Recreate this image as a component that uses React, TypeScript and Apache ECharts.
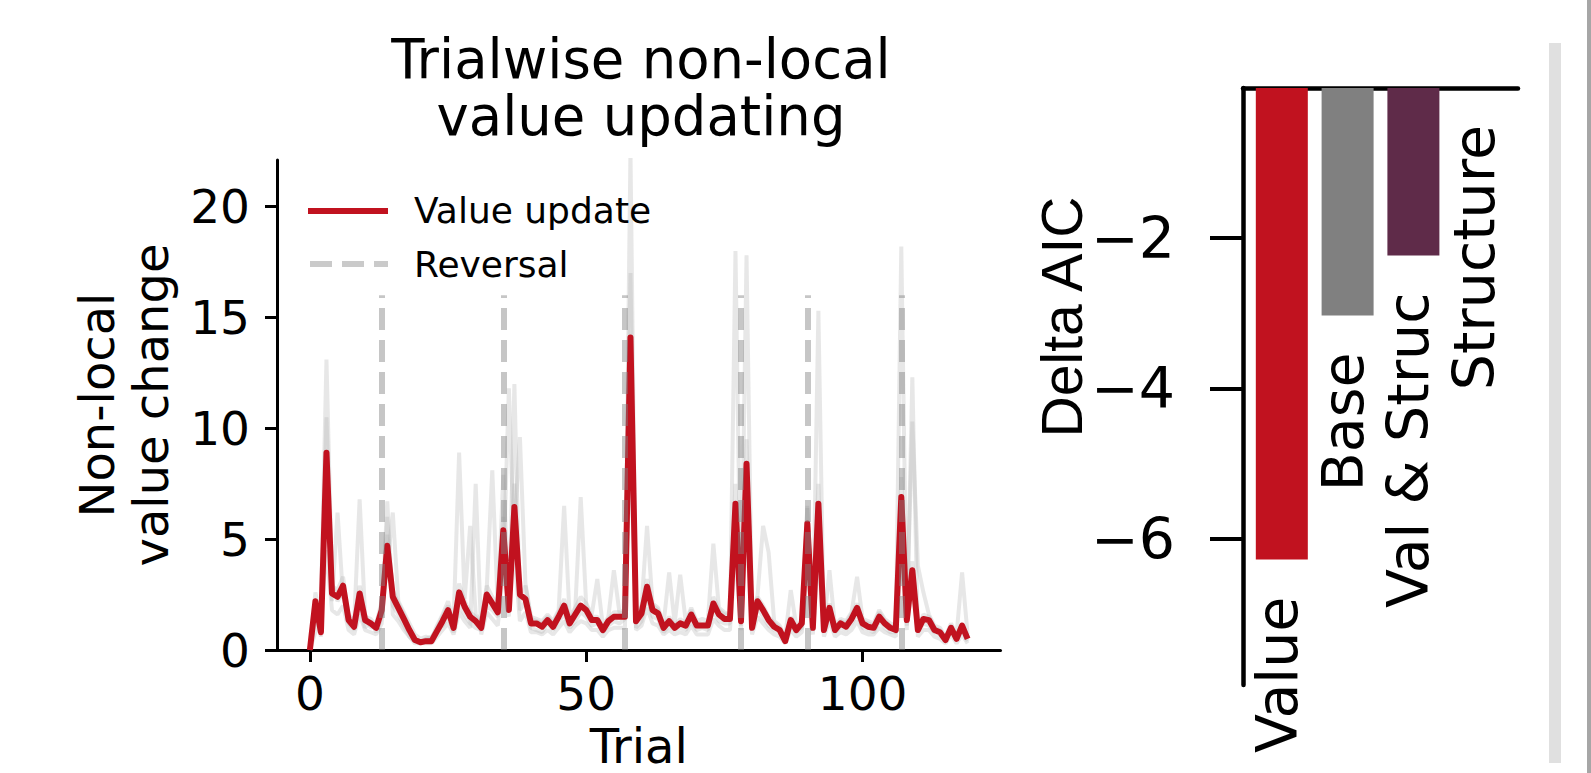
import React, { useEffect, useRef } from 'react';
import * as echarts from 'echarts';

// ---------- Left panel data ----------
const valueUpdate = [
  0, 2.2, 0.8, 8.9, 2.55, 2.4, 2.9, 1.35, 1.05, 2.55,
  1.35, 1.2, 1.0, 1.8, 4.7, 2.4, 1.9, 1.4, 0.9, 0.45,
  0.35, 0.4, 0.4, 0.85, 1.3, 1.8, 1.0, 2.6, 1.95, 1.5,
  1.3, 1.0, 2.5, 2.1, 1.7, 5.4, 1.8, 6.45, 2.5, 2.3,
  1.2, 1.2, 1.05, 1.35, 1.05, 1.5, 2.0, 1.2, 1.6, 2.0,
  1.8, 1.35, 1.35, 0.9, 1.3, 1.5, 1.5, 1.5, 14.1, 1.3,
  1.65, 2.85, 1.8, 1.65, 1.0, 1.3, 1.0, 1.2, 1.1, 1.6,
  1.1, 1.1, 1.1, 2.1, 1.6, 1.4, 1.4, 6.6, 1.3, 8.4,
  1.0, 2.2, 1.8, 1.35, 1.05, 0.9, 0.4, 1.35, 0.9, 1.2,
  5.7, 1.0, 6.6, 0.9, 1.9, 0.9, 1.2, 1.05, 1.4, 1.9,
  1.2, 1.05, 1.0, 1.5, 1.2, 1.0, 0.9, 6.9, 1.35, 3.6,
  0.9, 1.4, 1.35, 0.9, 0.8, 0.45, 1.0, 0.5, 1.1, 0.5,
];

const subjectA = [
  0, 1.5, 2.0, 13.1, 3.0, 2.2, 2.6, 1.2, 0.9, 2.0,
  1.0, 1.3, 0.8, 1.5, 6.7, 2.0, 1.6, 1.1, 0.6, 0.4,
  0.3, 0.5, 0.6, 0.9, 1.1, 1.5, 0.8, 2.0, 1.6, 1.2,
  1.0, 0.9, 2.0, 1.8, 1.5, 4.5, 1.5, 12.0, 1.8, 2.2,
  1.0, 0.9, 0.8, 1.2, 0.9, 1.3, 1.6, 1.0, 1.3, 1.7,
  1.5, 1.1, 1.2, 0.8, 1.1, 1.3, 1.2, 1.4, 22.5, 1.0,
  1.3, 2.4, 1.5, 1.4, 0.8, 1.1, 0.9, 1.0, 0.9, 1.3,
  0.9, 1.0, 0.9, 1.8, 1.3, 1.2, 1.2, 18.0, 1.1, 7.0,
  0.9, 1.9, 1.5, 1.1, 0.9, 0.8, 0.4, 1.1, 0.8, 1.0,
  4.8, 0.9, 15.3, 0.8, 1.6, 0.8, 1.0, 0.9, 1.2, 1.6,
  1.0, 0.9, 0.8, 1.3, 1.0, 0.8, 0.8, 18.2, 1.1, 3.0,
  0.8, 1.2, 1.1, 0.8, 0.7, 0.4, 0.9, 0.5, 1.0, 0.4,
];

const subjectB = [
  0, 2.6, 1.2, 7.5, 2.2, 6.2, 2.4, 1.6, 1.3, 2.9,
  1.6, 1.0, 1.2, 2.2, 3.8, 6.2, 2.2, 1.7, 1.2, 0.7,
  0.5, 0.6, 0.5, 1.1, 1.6, 2.2, 1.3, 8.9, 2.3, 5.6,
  1.6, 1.3, 2.9, 2.4, 2.0, 7.9, 2.2, 5.5, 9.6, 3.0,
  1.5, 1.4, 1.3, 1.6, 1.3, 1.8, 6.5, 1.5, 1.9, 2.4,
  2.1, 1.6, 3.2, 1.1, 1.5, 3.6, 1.7, 1.8, 9.0, 1.6,
  2.0, 5.6, 2.1, 1.9, 1.2, 3.5, 1.2, 3.4, 1.3, 1.9,
  1.3, 1.4, 1.3, 4.8, 1.9, 1.7, 1.6, 5.0, 1.5, 17.8,
  1.2, 2.5, 5.6, 4.4, 1.3, 1.1, 0.6, 2.7, 1.1, 1.3,
  6.5, 1.2, 5.0, 1.1, 3.6, 1.1, 1.4, 1.3, 1.7, 3.3,
  1.4, 1.3, 1.2, 1.8, 1.4, 1.2, 1.1, 6.0, 1.6, 10.3,
  3.8, 2.6, 1.6, 1.1, 1.0, 0.6, 1.2, 0.7, 3.5, 0.7,
];

const subjectC = [
  0, 1.8, 0.6, 10.5, 2.9, 2.7, 3.3, 1.5, 1.2, 6.8,
  1.5, 1.4, 1.1, 2.0, 5.2, 2.7, 2.1, 1.6, 1.0, 0.5,
  0.4, 0.4, 0.5, 1.0, 1.5, 2.0, 1.1, 3.0, 2.2, 1.7,
  1.5, 1.1, 2.8, 8.1, 1.9, 6.0, 2.0, 7.5, 2.3, 2.9,
  1.4, 1.3, 1.2, 1.5, 1.2, 1.7, 2.3, 1.4, 1.8, 6.9,
  2.0, 1.5, 1.5, 1.0, 1.4, 1.7, 1.7, 1.6, 17.0, 1.5,
  1.9, 3.2, 2.0, 1.8, 1.1, 1.5, 1.1, 1.4, 1.2, 1.8,
  1.2, 1.2, 1.2, 2.4, 1.8, 1.6, 1.6, 7.5, 1.4, 9.5,
  1.1, 2.4, 2.0, 1.5, 1.2, 1.0, 0.5, 1.5, 1.0, 1.1,
  6.4, 1.1, 7.5, 1.0, 2.1, 1.0, 1.3, 1.2, 1.6, 2.1,
  1.3, 1.2, 1.1, 1.7, 1.3, 1.1, 1.0, 7.8, 1.5, 4.0,
  1.0, 1.6, 1.5, 1.0, 0.9, 0.5, 1.1, 0.6, 1.2, 0.6,
];

const subjectD = [
  0, 0.8, 1.5, 4.5, 1.8, 1.6, 2.0, 0.9, 0.7, 1.6,
  0.9, 0.8, 0.7, 1.2, 6.0, 1.6, 1.3, 0.9, 0.6, 0.3,
  0.3, 0.3, 0.3, 0.6, 0.9, 1.2, 0.7, 1.7, 1.3, 1.0,
  7.5, 0.7, 1.7, 1.4, 1.1, 3.6, 11.8, 4.3, 1.3, 1.7,
  0.8, 0.8, 0.7, 0.9, 0.7, 1.0, 1.3, 0.8, 1.1, 1.3,
  1.2, 0.9, 0.9, 0.6, 0.9, 1.0, 1.0, 1.0, 12.0, 0.9,
  1.1, 1.9, 1.2, 1.1, 0.7, 0.9, 0.7, 0.8, 0.7, 1.1,
  0.7, 0.7, 0.7, 1.4, 1.1, 0.9, 0.9, 4.4, 0.9, 5.6,
  0.7, 1.5, 1.2, 0.9, 0.7, 0.6, 0.3, 0.9, 0.6, 0.8,
  3.8, 0.7, 4.4, 0.6, 1.3, 0.6, 0.8, 0.7, 0.9, 1.3,
  0.8, 0.7, 0.7, 1.0, 0.8, 0.7, 0.6, 4.6, 0.9, 12.3,
  0.6, 0.9, 0.9, 0.6, 0.5, 0.3, 0.7, 0.3, 0.7, 0.3,
];

const subjects = [subjectA, subjectB, subjectC, subjectD];
const reversalTrials = [13, 35, 57, 78, 90, 107];
const reversalTop = 16;
const trialTicks = [0, 50, 100];
const changeTicks = [0, 5, 10, 15, 20];

// ---------- Right panel data ----------
const models = ['Value', 'Base', 'Val & Struc', 'Structure'];
const deltaAIC = [-6.28, -3.03, -2.23, 0];
const modelColors = ['#c1121f', '#808080', '#5f2b49', '#3b6a8c'];
const aicTicks = [-6, -4, -2];

const RED = '#c1121f';
const FONT = 'DejaVu Sans';

const toPairs = (arr: number[]) => arr.map((v, i) => [i, v]);

export default function App() {
  const ref = useRef<HTMLDivElement>(null);

  useEffect(() => {
    if (!ref.current) return;
    const chart = echarts.init(ref.current, undefined, { renderer: 'svg' });

    const greySeries = subjects.map((s, k) => ({
      name: 'Subject ' + (k + 1),
      type: 'line',
      xAxisIndex: 0,
      yAxisIndex: 0,
      data: toPairs(s),
      showSymbol: false,
      symbol: 'none',
      clip: true,
      z: 1,
      lineStyle: { color: 'rgba(175,175,175,0.3)', width: 4 },
      silent: true,
    }));

    const option: any = {
      animation: false,
      backgroundColor: '#ffffff',
      textStyle: { fontFamily: FONT },
      title: {
        text: 'Trialwise non-local\nvalue updating',
        left: 641,
        top: 30,
        textAlign: 'center',
        padding: 0,
        textStyle: {
          fontFamily: FONT,
          fontSize: 54.5,
          fontWeight: 'normal',
          color: '#000',
          lineHeight: 57,
        },
      },
      grid: [
        { left: 277, top: 160, right: 590.5, bottom: 123, outerBoundsMode: 'none', containLabel: false },
        { left: 1243, top: 88, right: 73, bottom: 88, outerBoundsMode: 'none', containLabel: false },
      ],
      xAxis: [
        {
          gridIndex: 0,
          type: 'value',
          min: -5.95,
          max: 124.95,
          name: 'Trial',
          nameLocation: 'middle',
          nameGap: 75,
          nameTextStyle: { fontFamily: FONT, fontSize: 48, color: '#000', lineHeight: 40 },
          axisLine: { show: true, onZero: false, lineStyle: { color: '#000', width: 3 } },
          axisTick: { show: true, length: 12, customValues: trialTicks, lineStyle: { color: '#000', width: 3 } },
          axisLabel: { customValues: trialTicks, margin: 20, fontFamily: FONT, fontSize: 47, color: '#000' },
          splitLine: { show: false },
        },
        {
          gridIndex: 1,
          type: 'value',
          min: -0.59,
          max: 3.59,
          position: 'top',
          axisLine: { show: true, onZero: false, lineStyle: { color: '#000', width: 4.5 } },
          axisTick: { show: false },
          axisLabel: { show: false },
          splitLine: { show: false },
        },
      ],
      yAxis: [
        {
          gridIndex: 0,
          type: 'value',
          min: 0,
          max: 22.1,
          name: 'Non-local\nvalue change',
          nameLocation: 'middle',
          nameGap: 99,
          nameRotate: 90,
          nameTextStyle: { fontFamily: FONT, fontSize: 48, color: '#000', lineHeight: 54 },
          axisLine: { show: true, onZero: false, lineStyle: { color: '#000', width: 3 } },
          axisTick: { show: true, length: 12, customValues: changeTicks, lineStyle: { color: '#000', width: 3 } },
          axisLabel: { customValues: changeTicks, margin: 27, fontFamily: FONT, fontSize: 47, color: '#000' },
          splitLine: { show: false },
        },
        {
          gridIndex: 1,
          type: 'value',
          min: -7.95,
          max: 0,
          axisLine: { show: true, onZero: false, lineStyle: { color: '#000', width: 4.5 } },
          axisTick: { show: true, length: 33, customValues: aicTicks, lineStyle: { color: '#000', width: 4 } },
          axisLabel: {
            customValues: aicTicks,
            margin: 68,
            fontFamily: FONT,
            fontSize: 57,
            color: '#000',
            formatter: (v: number) => (v < 0 ? '\u2212' + Math.abs(v) : String(v)),
          },
          splitLine: { show: false },
        },
      ],
      series: [
        ...greySeries,
        {
          name: 'Value update',
          type: 'line',
          xAxisIndex: 0,
          yAxisIndex: 0,
          data: toPairs(valueUpdate),
          showSymbol: false,
          symbol: 'none',
          clip: true,
          z: 3,
          lineStyle: { color: RED, width: 6, join: 'round' },
        },
        {
          name: 'Reversal',
          type: 'line',
          xAxisIndex: 0,
          yAxisIndex: 0,
          data: [],
          z: 5,
          markLine: {
            silent: true,
            symbol: ['none', 'none'],
            label: { show: false },
            lineStyle: { color: 'rgba(128,128,128,0.45)', width: 6, type: [22, 10] },
            data: reversalTrials.map((t) => [{ coord: [t, 0] }, { coord: [t, reversalTop] }]),
          },
        },
        {
          name: 'Delta AIC',
          type: 'bar',
          xAxisIndex: 1,
          yAxisIndex: 1,
          barWidth: 52,
          data: models.map((m, i) => ({
            name: m,
            value: [i, deltaAIC[i]],
            itemStyle: { color: modelColors[i] },
          })),
          label: {
            show: true,
            position: 'bottom',
            distance: 37,
            rotate: 90,
            align: 'right',
            verticalAlign: 'middle',
            offset: [0, -5],
            formatter: (p: any) => p.name,
            fontFamily: FONT,
            fontSize: 57,
            color: '#000',
          },
        },
      ],
      graphic: [
        {
          type: 'line',
          shape: { x1: 308, y1: 211, x2: 388, y2: 211 },
          style: { stroke: RED, lineWidth: 6 },
          z: 10,
        },
        {
          type: 'text',
          x: 414,
          y: 210,
          style: { text: 'Value update', font: '36px "DejaVu Sans"', fill: '#000', verticalAlign: 'middle', align: 'left' },
          z: 10,
        },
        {
          type: 'line',
          shape: { x1: 310, y1: 264, x2: 388, y2: 264 },
          style: { stroke: 'rgba(128,128,128,0.42)', lineWidth: 6, lineDash: [22, 10] },
          z: 10,
        },
        {
          type: 'text',
          x: 414,
          y: 264,
          style: { text: 'Reversal', font: '36px "DejaVu Sans"', fill: '#000', verticalAlign: 'middle', align: 'left' },
          z: 10,
        },
        {
          type: 'text',
          x: 1062,
          y: 317,
          rotation: Math.PI / 2,
          style: { text: 'Delta AIC', font: '57px "Liberation Sans"', fill: '#000', verticalAlign: 'middle', align: 'center' },
          z: 10,
        },
        {
          type: 'rect',
          shape: { x: 1549, y: 43, width: 12, height: 720 },
          style: { fill: '#e0e0e0' },
          z: 0,
        },
        {
          type: 'rect',
          shape: { x: 1587, y: 0, width: 4, height: 773 },
          style: { fill: '#a6a6a6' },
          z: 0,
        },
      ],
    };

    chart.setOption(option);
    return () => {
      chart.dispose();
    };
  }, []);

  return (
    <div
      ref={ref}
      style={{ position: 'absolute', left: 0, top: 0, width: 1591, height: 773 }}
    />
  );
}
